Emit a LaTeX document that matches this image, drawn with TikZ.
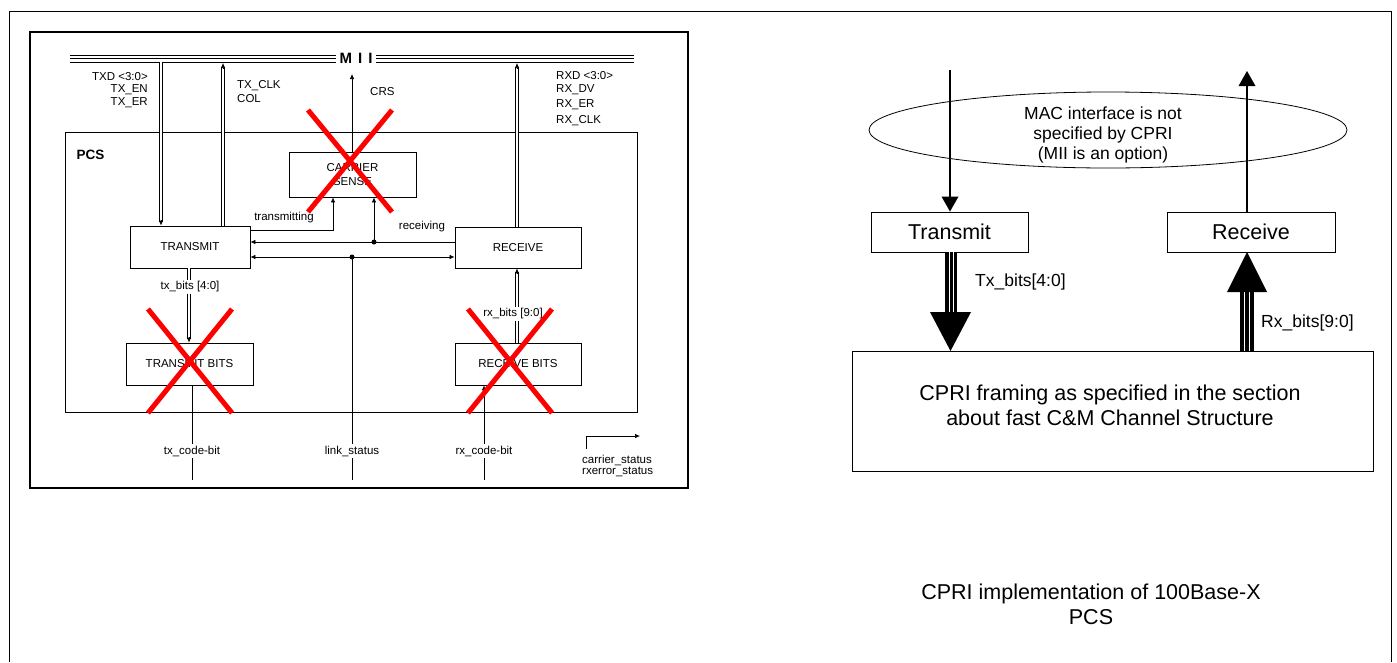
\documentclass[tikz,border=0pt]{standalone}
\usepackage{fontspec}
\setmainfont{Liberation Sans}
\usetikzlibrary{arrows.meta,shapes.geometric,calc}
\begin{document}
\begin{tikzpicture}[x=1pt,y=-1pt,
  lbl/.style={inner sep=0pt, font=\fontsize{11.5}{13}\selectfont},
  wlbl/.style={lbl, fill=white, inner sep=1.5pt},
  sbox/.style={draw, line width=0.8pt, inner sep=0pt, font=\fontsize{11.5}{14}\selectfont, align=center},
  thin/.style={line width=0.7pt},
  dbl/.style={draw, line width=0.6pt, double=white, double distance=2.2pt},
  tipS/.style={thin, -{Latex[length=5pt,width=4.5pt]}},
  tipB/.style={thin, {Latex[length=5pt,width=4.5pt]}-{Latex[length=5pt,width=4.5pt]}},
  jdot/.style={circle, fill, inner sep=0pt, minimum size=5pt},
  cross/.style={draw=red, line width=5pt},
  bigbox/.style={draw, line width=0.9pt, inner sep=0pt, font=\fontsize{21.5}{25}\selectfont, align=center},
  btxt/.style={inner sep=0pt, font=\fontsize{21.5}{25}\selectfont, align=center},
  mtxt/.style={inner sep=0pt, font=\fontsize{17.5}{20}\selectfont, align=center},
  shaft/.style={line width=2.2pt},
  ]
\useasboundingbox (0,0) rectangle (1397,662);
% outer frame
\draw[line width=0.9pt] (9,662) -- (9,11) -- (1391,11) -- (1391,662);
% left picture frame
\draw[line width=1.3pt] (30,32) rectangle (688,488);
% MII bus
\foreach \yy in {55,58.5,62} {
  \draw[thin] (70,\yy) -- (336,\yy);
  \draw[thin] (376,\yy) -- (634,\yy);
}
\node[inner sep=0pt, font=\bfseries\fontsize{15}{17}\selectfont] (mii) at (356,58) {M\hspace{6pt}I\hspace{6pt}I};
% PCS frame
\draw[line width=0.8pt] (65,132) rectangle (637,412);
\node[inner sep=0pt, font=\bfseries\fontsize{13.5}{15}\selectfont] (pcs) at (90.5,155) {PCS};
% boxes
\node[sbox, minimum width=120pt, minimum height=42pt] (tx) at (190,247) {TRANSMIT};
\node[sbox, minimum width=127pt, minimum height=45pt] (cs) at (352.5,174.5) {CARRIER\\SENSE};
\node[sbox, minimum width=126pt, minimum height=41pt] (rx) at (518,247.5) {RECEIVE};
\node[sbox, minimum width=127pt, minimum height=42pt] (tb) at (189.5,364) {TRANSMIT BITS};
\node[sbox, minimum width=126pt, minimum height=42pt] (rb) at (518,364) {RECEIVE BITS};
% MII labels
\node[lbl, anchor=east] (l1) at (148,77) {TXD <3:0>};
\node[lbl, anchor=east] (l2) at (148,90) {TX\_EN};
\node[lbl, anchor=east] (l3) at (148,103) {TX\_ER};
\node[lbl, anchor=west] (l4) at (237,86) {TX\_CLK};
\node[lbl, anchor=west] (l5) at (237,99) {COL};
\node[lbl, anchor=west] (l6) at (370,92) {CRS};
\node[lbl, anchor=west] (l7) at (556,76) {RXD <3:0>};
\node[lbl, anchor=west] (l8) at (556,90) {RX\_DV};
\node[lbl, anchor=west] (l9) at (556,105) {RX\_ER};
\node[lbl, anchor=west] (l10) at (556,121) {RX\_CLK};
% coordinates
\coordinate (txd) at (161,62);
\coordinate (txc) at (223,63);
\coordinate (crs) at (352,74);
\coordinate (rxd) at (517,63);
\coordinate (trs) at (333,230);
\coordinate (rcv) at (374,242);
\coordinate (lnk) at (352,257);
\coordinate (txb) at (189,0);
\coordinate (rxb) at (517,0);
\coordinate (tce) at (192,480);
\coordinate (lke) at (352,480);
\coordinate (rce) at (484,480);
\coordinate (cst) at (586,449);
\coordinate (cse) at (640,436);
% TXD down into TRANSMIT
\draw[dbl] (txd) -- ($(tx.north -| txd)+(0,-4)$);
\draw[tipS] ($(tx.north -| txd)+(0,-6)$) -- (tx.north -| txd);
% TX_CLK up
\draw[dbl] (tx.north -| txc) -- ($(txc)+(0,4)$);
\draw[tipS] ($(txc)+(0,6)$) -- (txc);
% CRS up
\draw[tipS] (cs.north -| crs) -- (crs);
% RXD up
\draw[dbl] (rx.north -| rxd) -- ($(rxd)+(0,4)$);
\draw[tipS] ($(rxd)+(0,6)$) -- (rxd);
% transmitting
\draw[tipS] (tx.east |- trs) -| (cs.south -| trs);
\node[lbl] (ltr) at (284,218) {transmitting};
% receiving
\draw[tipS] (rx.west |- rcv) -- (tx.east |- rcv);
\draw[tipS] (rcv) -- (cs.south -| rcv);
\node[jdot] (d1) at (rcv) {};
\node[lbl] (lrc) at (422,227) {receiving};
% link
\draw[tipB] (tx.east |- lnk) -- (rx.west |- lnk);
\draw[thin] (lnk) -- (lke);
\node[jdot] (d2) at (lnk) {};
\node[wlbl] (llk) at (352,451) {link\_status};
% tx bits
\draw[dbl] (tx.south -| txb) -- ($(tb.north -| txb)+(0,-4)$);
\draw[tipS] ($(tb.north -| txb)+(0,-6)$) -- (tb.north -| txb);
\node[wlbl] (ltb) at (190,287) {tx\_bits [4:0]};
% rx bits
\draw[dbl] (rb.north -| rxb) -- ($(rx.south -| rxb)+(0,4)$);
\draw[tipS] ($(rx.south -| rxb)+(0,6)$) -- (rx.south -| rxb);
\node[wlbl] (lrb) at (513,314) {rx\_bits [9:0]};
% code bits
\draw[thin] (tb.south -| tce) -- (tce);
\node[wlbl] (ltc) at (192,451) {tx\_code-bit};
\draw[tipS] (rce) -- (rb.south -| rce);
\node[wlbl] (lrcb) at (484,451) {rx\_code-bit};
% carrier status
\draw[tipS] (cst) |- (cse);
\node[lbl, anchor=west] (lcs) at (582,460) {carrier\_status};
\node[lbl, anchor=west] (lre) at (582,472) {rxerror\_status};
% red crosses
\draw[cross] (308,110) -- (392,212);
\draw[cross] (392,110) -- (308,212);
\draw[cross] (148,309) -- (232,413);
\draw[cross] (232,309) -- (148,413);
\draw[cross] (468,309) -- (552,413);
\draw[cross] (552,309) -- (468,413);

% ================= right side =================
\node[draw, ellipse, line width=0.8pt, minimum width=478pt, minimum height=76pt, inner sep=0pt] (mac) at (1108,130) {};
\node[mtxt] (mact) at (1103,135) {MAC interface is not\\specified by CPRI\\(MII is an option)};
\node[bigbox, minimum width=157pt, minimum height=40pt] (rt) at (949.5,232) {Transmit};
\node[bigbox, minimum width=168pt, minimum height=40pt] (rr) at (1251,232) {Receive};
\node[draw, line width=0.9pt, minimum width=521pt, minimum height=120pt, inner sep=0pt] (cp) at (1112.5,411) {};
\node[btxt] (cpt) at (1110,405.5) {CPRI framing as specified in the section\\about fast C\&M Channel Structure};
\coordinate (tin) at (950,70);
\coordinate (rout) at (1247,71);
% Transmit input arrow
\draw[shaft] (tin) -- ($(rt.north -| tin)+(0,-13)$);
\fill ($(rt.north -| tin)+(-8.5,-15)$) -- ($(rt.north -| tin)+(8.5,-15)$) -- (rt.north -| tin) -- cycle;
% Receive output arrow
\draw[shaft] (rr.north -| rout) -- ($(rout)+(0,13)$);
\fill ($(rout)+(-8.5,15)$) -- ($(rout)+(8.5,15)$) -- (rout) -- cycle;
% big Tx arrow
\fill (945,252) rectangle (957,312);
\draw[white, line width=1.2pt] (949.3,252) -- (949.3,312);
\draw[white, line width=1.2pt] (953.3,252) -- (953.3,312);
\fill (930,312) -- (971,312) -- (950.5,351) -- cycle;
\node[mtxt, anchor=west] (ltx) at (975,282) {Tx\_bits[4:0]};
% big Rx arrow
\fill (1240,292) rectangle (1254,351);
\draw[white, line width=1.2pt] (1244.5,292) -- (1244.5,351);
\draw[white, line width=1.2pt] (1249.2,292) -- (1249.2,351);
\fill (1227,292) -- (1267,292) -- (1247,252) -- cycle;
\node[mtxt, anchor=west] (lrx) at (1261,323) {Rx\_bits[9:0]};
% caption
\node[btxt] (cap) at (1091,604.5) {CPRI implementation of 100Base-X\\PCS};
\end{tikzpicture}
\end{document}
